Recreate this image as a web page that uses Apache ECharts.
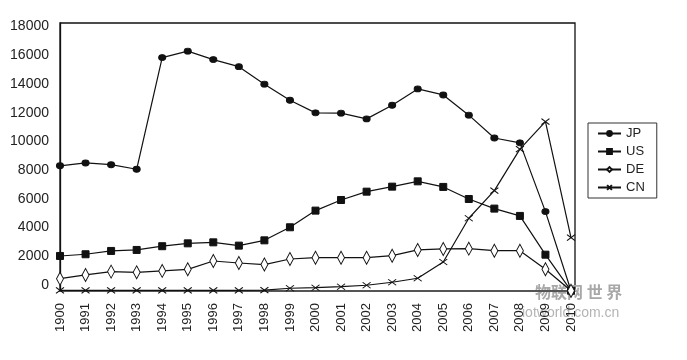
<!DOCTYPE html>
<html>
<head>
<meta charset="utf-8">
<script src="https://cdn.jsdelivr.net/npm/echarts@6/dist/echarts.min.js"></script>
<style>html,body{margin:0;padding:0;background:#fff;}#c{width:687px;height:360px;}</style>
</head>
<body>
<div id="c"></div>
<script>
var years = ['1900','1991','1992','1993','1994','1995','1996','1997','1998','1999','2000','2001','2002','2003','2004','2005','2006','2007','2008','2009','2010'];
var JP = [8300,8500,8380,8060,15840,16290,15700,15210,13990,12870,11990,11970,11570,12520,13660,13240,11830,10240,9900,5110,-400];
var US = [2020,2140,2370,2440,2700,2900,2970,2740,3110,4020,5180,5920,6500,6850,7220,6830,5990,5320,4810,2110,-400];
var DE = [440,700,930,880,980,1090,1670,1530,1420,1810,1900,1900,1900,2040,2440,2510,2530,2390,2390,1090,-400];
var CN = [-380,-380,-380,-380,-380,-380,-380,-380,-360,-230,-190,-120,-20,190,470,1600,4650,6570,9460,11380,3300];
var yTicks = [0,2000,4000,6000,8000,10000,12000,14000,16000,18000];
var seriesNames = ['JP','US','DE','CN'];

var font = 'Liberation Sans';
var chart = echarts.init(document.getElementById('c'), null, {renderer:'canvas'});
var xPath = 'path://M0,0L10,10M10,0L0,10';
function mk(name, data, symbol, size, fill){
  return {
    name: name, type: 'line', data: data, xAxisIndex: 0, yAxisIndex: 0,
    symbol: symbol, symbolSize: size, showSymbol: true, animation: false,
    lineStyle: {color:'#111', width:1.2},
    itemStyle: {color: fill, borderColor:'#111', borderWidth: 1},
    z: 5
  };
}
chart.setOption({
  animation: false,
  backgroundColor: '#fff',
  grid: [
    {left:60, right:116, top:23, bottom:69, show:false},
    {left:60, right:112, top:23, bottom:69, show:true, borderColor:'#111', borderWidth:1.3, backgroundColor:'transparent', z:0}
  ],
  xAxis: [
    {type:'category', gridIndex:0, data: years, boundaryGap:false,
     axisLine:{show:true, lineStyle:{color:'#555', width:2}, onZero:false},
     axisTick:{show:false},
     axisLabel:{rotate:90, color:'#222', fontFamily:font, fontSize:13, margin:12, interval:0},
     splitLine:{show:false}, z:3},
    {type:'value', gridIndex:1, show:false, min:0, max:1}
  ],
  yAxis: [
    {type:'value', gridIndex:0, min:-420, max:18250,
     axisLine:{show:true, lineStyle:{color:'#111', width:1.3}},
     axisTick:{show:false},
     splitLine:{show:false},
     axisLabel:{customValues: yTicks, color:'#222', fontFamily:font, fontSize:14, margin:11,
       formatter: function(v){ return String(v); }}},
    {type:'value', gridIndex:1, show:false, min:0, max:1}
  ],
  legend: {
    orient:'vertical', left:588, top:123, data: seriesNames,
    borderColor:'#333', borderWidth:1, padding:[4,12,4,9],
    itemWidth:23, itemHeight:6, itemGap:5,
    textStyle:{color:'#222', fontFamily:font, fontSize:13, lineHeight:13}
  },
  graphic: [
    {type:'text', left:535, top:284, style:{text:'物联网 世 界', font:'bold 16px "Noto Sans CJK SC"', fill:'#a8a8a8'}},
    {type:'text', left:522, top:306, style:{text:'iotworld.com.cn', font:'14px "Liberation Sans"', fill:'#b4b4b4'}}
  ],
  series: [
    mk('JP', JP, 'circle', [7,6], '#111'),
    mk('US', US, 'rect', 7, '#111'),
    mk('DE', DE, 'diamond', [7,13], '#fff'),
    mk('CN', CN, xPath, [8,6], '#111')
  ]
});
</script>
</body>
</html>
